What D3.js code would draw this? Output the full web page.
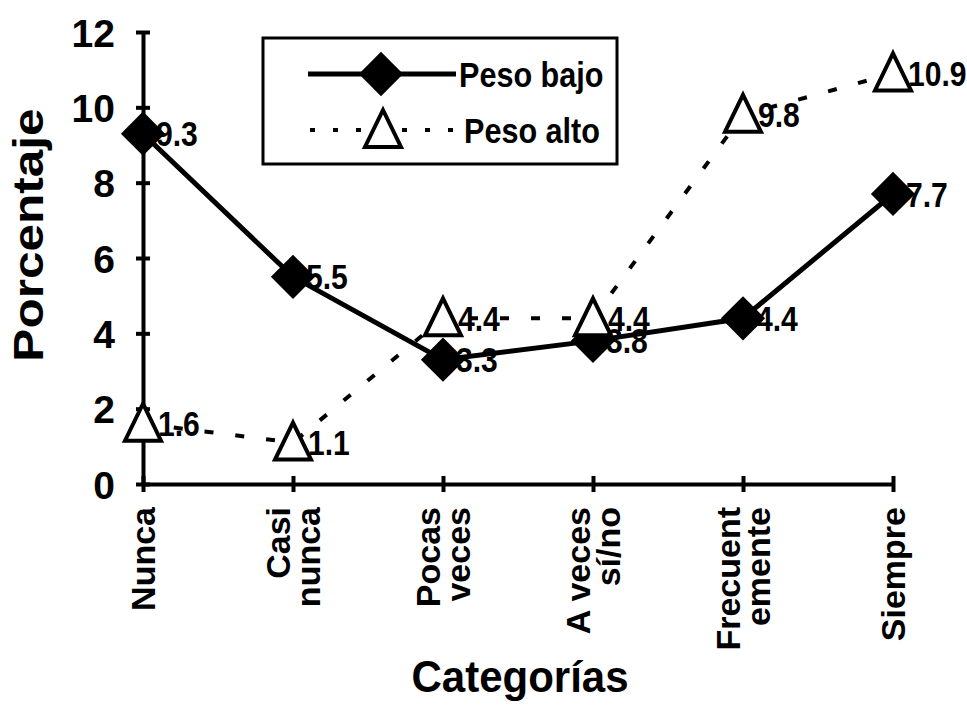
<!DOCTYPE html>
<html>
<head>
<meta charset="utf-8">
<script src="https://cdn.jsdelivr.net/npm/d3@7"></script>
<style>
  html, body { margin: 0; padding: 0; background: #fff; }
  svg { display: block; }
  text { font-family: "Liberation Sans", Arial, Helvetica, sans-serif; font-weight: bold; fill: #000; }
</style>
</head>
<body>
<svg id="chart" width="967" height="719"></svg>
<script>
const categories = [["Nunca"], ["Casi", "nunca"], ["Pocas", "veces"], ["A veces", "sí/no"], ["Frecuent", "emente"], ["Siempre"]];
const pesoBajo = [9.3, 5.5, 3.3, 3.8, 4.4, 7.7];
const pesoAlto = [1.6, 1.1, 4.4, 4.4, 9.8, 10.9];
const yTicks = [0, 2, 4, 6, 8, 10, 12];
const seriesNames = ["Peso bajo", "Peso alto"];

const svg = d3.select("#chart");
const keys = categories.map(c => c.join(" "));

const x = d3.scalePoint().domain(keys).range([143, 893]).padding(0);
const y = d3.scaleLinear().domain([0, 12]).range([484, 32]);

// Y axis
const yAxis = svg.append("g").attr("transform", `translate(${x(keys[0])},0)`)
  .call(d3.axisLeft(y).tickValues(yTicks).tickSize(0).tickPadding(28).tickFormat(d3.format("d")));
yAxis.select(".domain").attr("stroke", "#000").attr("stroke-width", 4);
yAxis.selectAll(".tick line").attr("x1", -7).attr("x2", 7).attr("stroke", "#000").attr("stroke-width", 4);
yAxis.selectAll(".tick text").attr("font-size", 39).attr("font-family", "Liberation Sans, Arial, sans-serif").attr("font-weight", "bold").attr("dy", "0.36em");

// X axis
const xAxis = svg.append("g").attr("transform", `translate(0,${y(0)})`)
  .call(d3.axisBottom(x).tickSize(0).tickFormat(""));
xAxis.select(".domain").attr("stroke", "#000").attr("stroke-width", 4);
xAxis.selectAll(".tick line").attr("y1", -8).attr("y2", 8).attr("stroke", "#000").attr("stroke-width", 4);

// X category labels (rotated, multi-line)
categories.forEach((lines, i) => {
  const cx = x(keys[i]);
  const n = lines.length;
  const lh = 30;
  const g = svg.append("g").attr("transform", `translate(${cx},507) rotate(-90)`);
  lines.forEach((ln, j) => {
    const off = (j - (n - 1) / 2) * lh;
    g.append("text")
      .attr("x", 0)
      .attr("y", off)
      .attr("dy", "0.36em")
      .attr("text-anchor", "end")
      .attr("font-size", 34)
      .text(ln);
  });
});

// Axis titles
svg.append("text")
  .attr("transform", "translate(43,235) rotate(-90) scale(1.18,1)")
  .attr("text-anchor", "middle")
  .attr("font-size", 42)
  .text("Porcentaje");
svg.append("text")
  .attr("transform", "translate(520,692) scale(1,1.05)")
  .attr("text-anchor", "middle")
  .attr("font-size", 42)
  .text("Categorías");

const diamond = d3.symbol().type(d3.symbolSquare).size(980);
const triPath = `M0,-20L18,17L-18,17Z`;

// Peso alto (dashed + triangles)
const lineGen = d3.line().x((d, i) => x(keys[i])).y(d => y(d));
svg.append("path").datum(pesoAlto)
  .attr("d", lineGen).attr("fill", "none").attr("stroke", "#000")
  .attr("stroke-width", 4).attr("stroke-dasharray", "9,22");

// Peso bajo (solid + diamonds)
svg.append("path").datum(pesoBajo)
  .attr("d", lineGen).attr("fill", "none").attr("stroke", "#000")
  .attr("stroke-width", 5);

svg.selectAll(".dia").data(pesoBajo).enter().append("path")
  .attr("d", diamond)
  .attr("transform", (d, i) => `translate(${x(keys[i])},${y(d)}) rotate(45)`)
  .attr("fill", "#000");

svg.selectAll(".tri").data(pesoAlto).enter().append("path")
  .attr("d", triPath)
  .attr("transform", (d, i) => `translate(${x(keys[i])},${y(d)})`)
  .attr("fill", "#fff").attr("stroke", "#000").attr("stroke-width", 4).attr("stroke-linejoin", "miter");

// Data labels
svg.selectAll(".lb").data(pesoBajo).enter().append("text")
  .attr("transform", (d, i) => `translate(${x(keys[i]) + 13},${y(d)}) scale(0.86,1)`)
  .attr("dy", "0.36em")
  .attr("font-size", 35)
  .text(d => d3.format(".1f")(d));
svg.selectAll(".la").data(pesoAlto).enter().append("text")
  .attr("transform", (d, i) => `translate(${x(keys[i]) + 15},${y(d)}) scale(0.86,1)`)
  .attr("dy", "0.36em")
  .attr("font-size", 35)
  .text(d => d3.format(".1f")(d));

// Legend
const lg = svg.append("g");
lg.append("rect").attr("x", 263).attr("y", 38).attr("width", 354).attr("height", 126)
  .attr("fill", "#fff").attr("stroke", "#000").attr("stroke-width", 3);
lg.append("line").attr("x1", 308).attr("x2", 456).attr("y1", 74).attr("y2", 74)
  .attr("stroke", "#000").attr("stroke-width", 5);
lg.append("path").attr("d", diamond).attr("transform", "translate(381,74) rotate(45)").attr("fill", "#000");
lg.append("text").attr("transform", "translate(459,74) scale(0.85,1)").attr("dy", "0.36em").attr("font-size", 36).text(seriesNames[0]);
lg.append("line").attr("x1", 310).attr("x2", 456).attr("y1", 130).attr("y2", 130)
  .attr("stroke", "#000").attr("stroke-width", 4).attr("stroke-dasharray", "5,18");
lg.append("path").attr("d", triPath).attr("transform", "translate(383,130)")
  .attr("fill", "#fff").attr("stroke", "#000").attr("stroke-width", 4);
lg.append("text").attr("transform", "translate(464,130) scale(0.85,1)").attr("dy", "0.36em").attr("font-size", 36).text(seriesNames[1]);
</script>
</body>
</html>
